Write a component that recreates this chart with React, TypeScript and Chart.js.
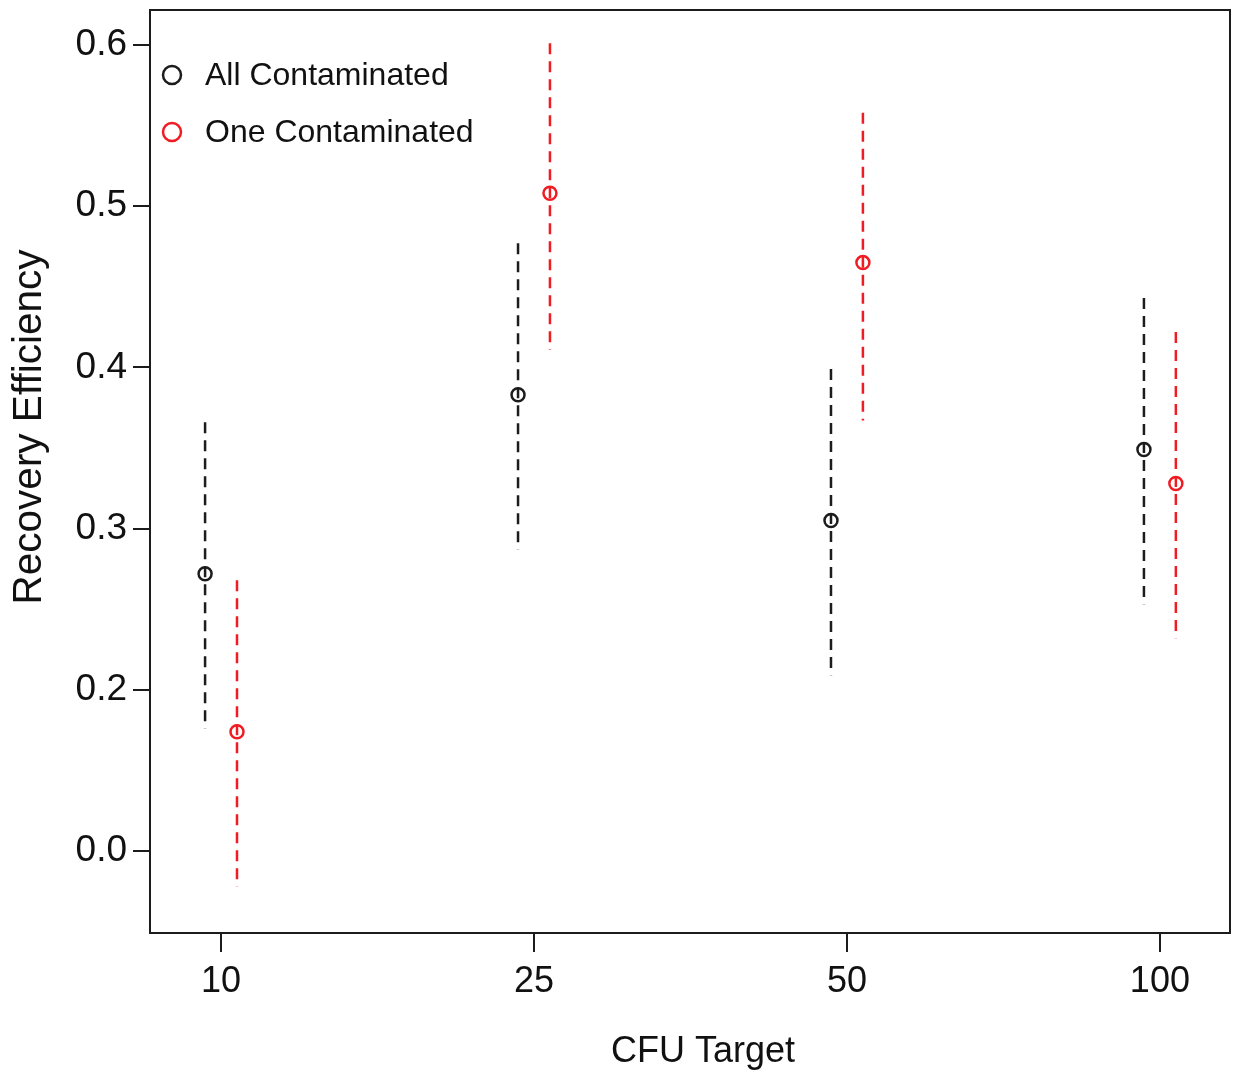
import React, { useEffect, useRef } from "react";
import { Chart, registerables } from "chart.js";

Chart.register(...registerables);

// ---- data ----
const categories = ["10", "25", "50", "100"];
const categoryPositions = [1, 2, 3, 4];
const dodge = 0.051;

const allMean = [0.272, 0.383, 0.305, 0.349];
const allLower = [0.176, 0.287, 0.209, 0.253];
const allUpper = [0.366, 0.477, 0.399, 0.443];

const oneMean = [0.174, 0.508, 0.465, 0.328];
const oneLower = [0.078, 0.411, 0.367, 0.232];
const oneUpper = [0.268, 0.601, 0.558, 0.422];

const yTickValues = [0.6, 0.5, 0.4, 0.3, 0.2, 0.1];
const yTickLabels = ["0.6", "0.5", "0.4", "0.3", "0.2", "0.0"];

const seriesNames = ["All Contaminated", "One Contaminated"];
const xTitle = "CFU Target";
const yTitle = "Recovery Efficiency";
const BLACK = "#1c1c1c";
const RED = "#f01c24";
const FONT = "'Liberation Sans', Arial, Helvetica, sans-serif";

function errorDatasets(lower: number[], upper: number[], shift: number, color: string) {
  return categoryPositions.map((p, i) => ({
    type: "scatter" as const,
    data: [
      { x: p + shift, y: upper[i] },
      { x: p + shift, y: lower[i] },
    ],
    showLine: true,
    borderColor: color,
    borderWidth: 2.5,
    borderDash: [11, 7],
    pointRadius: 0,
    pointHoverRadius: 0,
    order: 2,
  }));
}

const framePlugin = {
  id: "frameAndLegend",
  afterDraw(chart: any) {
    const { ctx, chartArea } = chart;
    ctx.save();
    ctx.strokeStyle = BLACK;
    ctx.lineWidth = 2;
    ctx.strokeRect(chartArea.left, chartArea.top, chartArea.right - chartArea.left, chartArea.bottom - chartArea.top);
    // legend
    const colors = [BLACK, RED];
    const ys = [75, 132];
    ctx.font = `32px ${FONT}`;
    ctx.textBaseline = "middle";
    ctx.textAlign = "left";
    seriesNames.forEach((name, i) => {
      ctx.beginPath();
      ctx.strokeStyle = colors[i];
      ctx.lineWidth = 2.5;
      ctx.arc(chartArea.left + 22, ys[i], 9, 0, Math.PI * 2);
      ctx.stroke();
      ctx.fillStyle = "#111";
      ctx.fillText(name, chartArea.left + 55, ys[i] + 1);
    });
    // axis titles
    ctx.fillStyle = "#111";
    ctx.textAlign = "center";
    ctx.textBaseline = "middle";
    ctx.font = `36px ${FONT}`;
    ctx.fillText(xTitle, 703, 1052);
    ctx.translate(30, 427);
    ctx.rotate(-Math.PI / 2);
    ctx.font = `40.5px ${FONT}`;
    ctx.fillText(yTitle, 0, 0);
    ctx.restore();
  },
};

function ChartView() {
  const ref = useRef<HTMLCanvasElement | null>(null);
  useEffect(() => {
    if (!ref.current) return;
    const chart = new Chart(ref.current, {
      type: "scatter",
      data: {
        datasets: [
          ...errorDatasets(allLower, allUpper, -dodge, BLACK),
          ...errorDatasets(oneLower, oneUpper, dodge, RED),
          {
            label: seriesNames[0],
            data: categoryPositions.map((p, i) => ({ x: p - dodge, y: allMean[i] })),
            pointStyle: "circle",
            pointRadius: 6.5,
            pointBorderWidth: 2.5,
            pointBorderColor: BLACK,
            pointBackgroundColor: "rgba(0,0,0,0)",
            order: 1,
          },
          {
            label: seriesNames[1],
            data: categoryPositions.map((p, i) => ({ x: p + dodge, y: oneMean[i] })),
            pointStyle: "circle",
            pointRadius: 6.5,
            pointBorderWidth: 2.5,
            pointBorderColor: RED,
            pointBackgroundColor: "rgba(0,0,0,0)",
            order: 1,
          },
        ] as any,
      },
      options: {
        animation: false,
        responsive: false,
        maintainAspectRatio: false,
        layout: { padding: { left: 0, top: 10, right: 10, bottom: 0 } },
        plugins: { legend: { display: false }, tooltip: { enabled: false } },
        events: [],
        scales: {
          x: {
            type: "linear",
            min: 0.773,
            max: 4.224,
            afterBuildTicks: (scale: any) => {
              scale.ticks = categoryPositions.map((v) => ({ value: v }));
            },
            afterFit: (scale: any) => {
              scale.height = 141;
              scale.paddingLeft = 0;
              scale.paddingRight = 0;
            },
            ticks: {
              autoSkip: false,
              maxRotation: 0,
              padding: 8,
              color: "#111",
              font: { family: FONT, size: 36 },
              callback: (_v: any, i: number) => categories[i],
            },
            grid: {
              drawOnChartArea: false,
              drawTicks: true,
              tickLength: 19,
              color: BLACK,
              lineWidth: 2,
            },
            border: { display: false },
            title: { display: false },
          },
          y: {
            type: "linear",
            min: 0.0491,
            max: 0.6217,
            afterBuildTicks: (scale: any) => {
              scale.ticks = yTickValues.map((v) => ({ value: v }));
            },
            afterFit: (scale: any) => {
              scale.width = 150;
              scale.paddingTop = 0;
              scale.paddingBottom = 0;
            },
            ticks: {
              autoSkip: false,
              padding: 6,
              color: "#111",
              font: { family: FONT, size: 37 },
              callback: (_v: any, i: number) => yTickLabels[i],
            },
            grid: {
              drawOnChartArea: false,
              drawTicks: true,
              tickLength: 17,
              color: BLACK,
              lineWidth: 2,
            },
            border: { display: false },
            title: { display: false },
          },
        },
      } as any,
      plugins: [framePlugin],
    });
    return () => chart.destroy();
  }, []);
  return <canvas ref={ref} width={1240} height={1074} style={{ display: "block" }} />;
}

export default function App() {
  return (
    <div style={{ position: "absolute", left: 0, top: 0, width: 1240, height: 1074, background: "#fff" }}>
      <ChartView />
    </div>
  );
}
